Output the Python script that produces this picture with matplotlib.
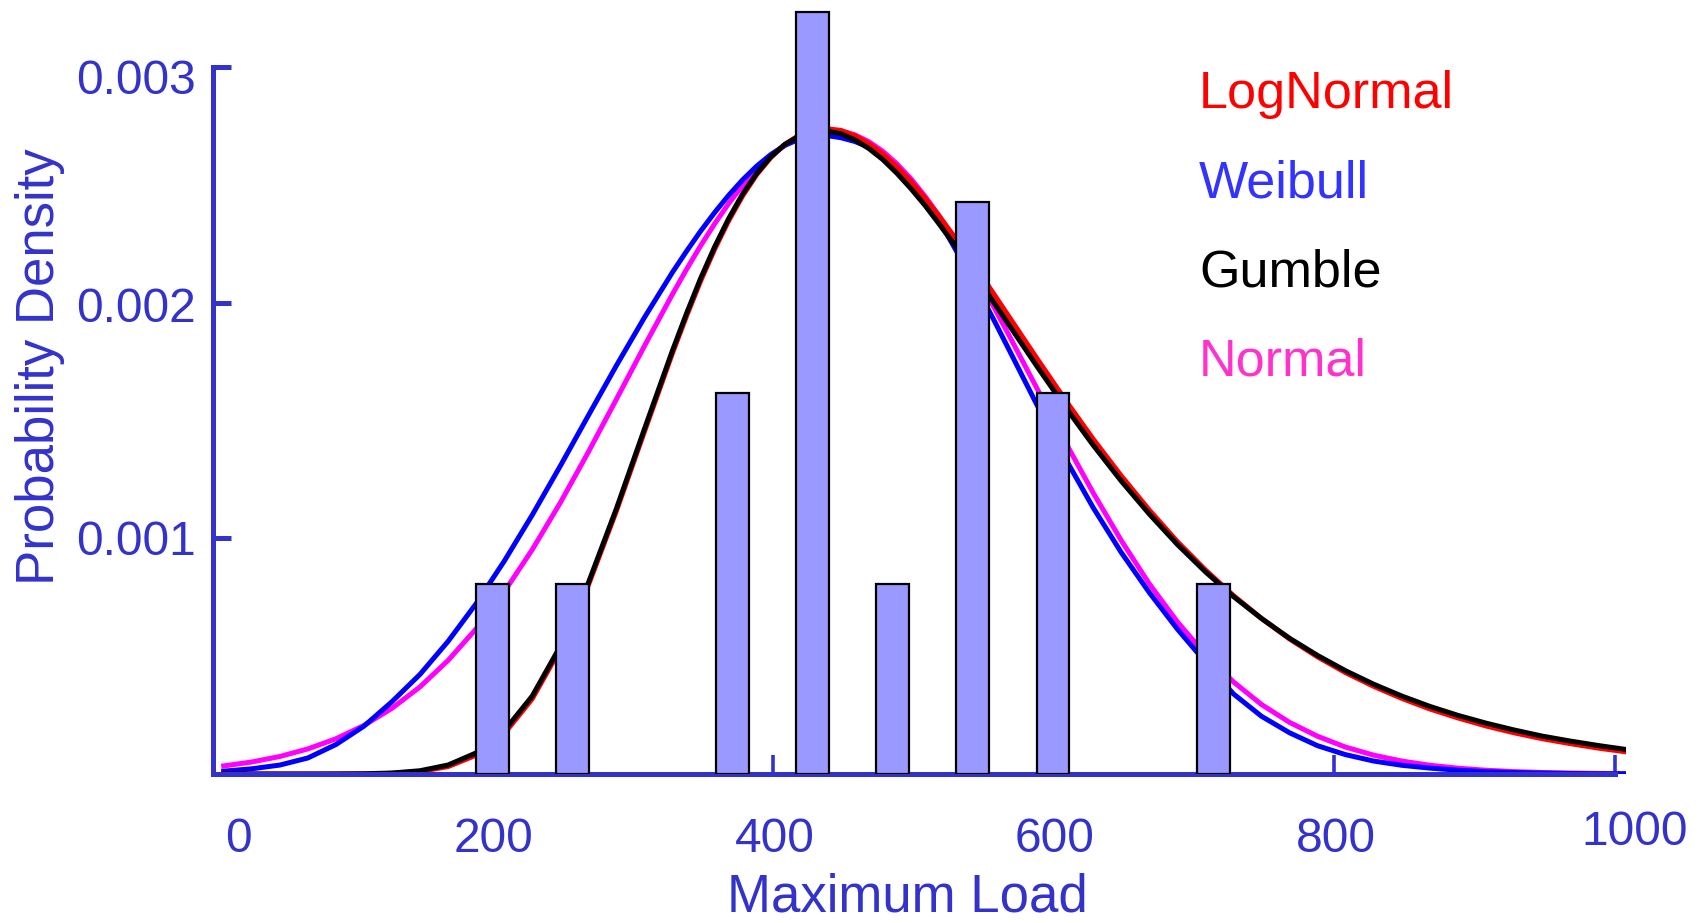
import matplotlib
matplotlib.use('Agg')
import matplotlib.pyplot as plt
from matplotlib.transforms import offset_copy
import numpy as np

plt.rcParams['font.family'] = ['Liberation Sans', 'DejaVu Sans']

AXIS_COLOR = '#3333CC'

# histogram of the measured maximum loads (density scale)
bin_centres = [199.6, 256.7, 370.8, 427.9, 485.1, 542.2, 599.3, 713.5]
bin_density = [0.000808, 0.000808, 0.001617, 0.003234, 0.000808, 0.002425, 0.001617, 0.000808]
bar_width = 23.4

# fitted densities; sampled every 20 units, every 10 around the peak
load = np.concatenate([np.arange(8, 338, 20), np.arange(338, 568, 10), np.arange(568, 1009, 20)])
pdf_lognormal = [0.0, 0.0, 0.0, 0.0, 0.0000001, 0.0000006, 0.0000027, 0.0000103, 0.0000316, 0.0000799,
                 0.000171, 0.000319, 0.000531, 0.000801, 0.001116, 0.001453, 0.001786,
                 0.001943, 0.002091, 0.002226, 0.002347, 0.002453, 0.002543, 0.002615, 0.002671, 0.002709, 0.002732,
                 0.002738, 0.002731, 0.002709, 0.002675, 0.002631, 0.002576, 0.002514, 0.002444, 0.002368, 0.002288,
                 0.002204, 0.002118, 0.002029,
                 0.001940, 0.001762, 0.001588, 0.001421, 0.001265, 0.001120, 0.000986, 0.000866, 0.000757, 0.000660,
                 0.000573, 0.000497, 0.000430, 0.000372, 0.000321, 0.000276, 0.000238, 0.000204, 0.000175, 0.000150,
                 0.000129, 0.000110, 0.000094]
pdf_weibull = [0.000012, 0.000022, 0.000038, 0.000068, 0.000125, 0.000203, 0.000307, 0.000423, 0.000563, 0.000723,
               0.000903, 0.001099, 0.001307, 0.001521, 0.001733, 0.001937, 0.002129,
               0.002218, 0.002303, 0.002382, 0.002455, 0.002521, 0.002579, 0.002628, 0.002667, 0.002693, 0.002707,
               0.002709, 0.002700, 0.002684, 0.002660, 0.002623, 0.002575, 0.002514, 0.002440, 0.002350, 0.002245,
               0.002140, 0.002030, 0.001917,
               0.001800, 0.001565, 0.001340, 0.001130, 0.000940, 0.000770, 0.000615, 0.000475, 0.000340, 0.000245,
               0.000175, 0.000120, 0.000082, 0.000055, 0.000037, 0.000025, 0.000016, 0.000010, 0.000006, 0.000004,
               0.000002, 0.000001, 0.000001]
pdf_gumble = [0.0, 0.0, 0.0, 0.0, 0.0000002, 0.000001, 0.0000042, 0.0000139, 0.0000382, 0.0000895,
              0.000183, 0.000331, 0.000542, 0.000811, 0.001126, 0.001464, 0.001797,
              0.001954, 0.002102, 0.002236, 0.002356, 0.002461, 0.002548, 0.002618, 0.002671, 0.002706, 0.002725,
              0.002728, 0.002717, 0.002691, 0.002654, 0.002607, 0.002549, 0.002484, 0.002413, 0.002335, 0.002254,
              0.002168, 0.002082, 0.001993,
              0.001905, 0.001729, 0.001558, 0.001395, 0.001243, 0.001103, 0.000974, 0.000858, 0.000753, 0.000660,
              0.000576, 0.000503, 0.000438, 0.000381, 0.000331, 0.000287, 0.000249, 0.000216, 0.000187, 0.000161,
              0.000140, 0.000121, 0.000104]
pdf_normal = [0.0000343, 0.000051, 0.0000743, 0.0001064, 0.0001495, 0.0002061, 0.0002788, 0.0003699, 0.0004821, 0.000616,
              0.000773, 0.000952, 0.001151, 0.001366, 0.001590, 0.001816, 0.002036,
              0.002141, 0.002241, 0.002334, 0.002420, 0.002497, 0.002565, 0.002622, 0.002668, 0.002702, 0.002724,
              0.002733, 0.002729, 0.002712, 0.002683, 0.002642, 0.002589, 0.002526, 0.002452, 0.002370, 0.002279,
              0.002182, 0.002079, 0.001972,
              0.001861, 0.001635, 0.001410, 0.001193, 0.000991, 0.000807, 0.000646, 0.000507, 0.000391, 0.000295,
              0.000219, 0.000160, 0.000114, 0.000080, 0.000055, 0.0000372, 0.0000247, 0.000016, 0.0000102, 0.0000064,
              0.000004, 0.0000024, 0.0000014]

x_ticks = [0, 200, 400, 600, 800, 1000]
y_ticks = [0.001, 0.002, 0.003]
y_tick_labels = ['0.001', '0.002', '0.003']

legend_names = ['LogNormal', 'Weibull', 'Gumble', 'Normal']
legend_colors = ['#FF0000', '#3333FF', '#000000', '#FF33CC']

W, H = 1704, 923
fig = plt.figure(figsize=(W / 100, H / 100), dpi=100)
ax = fig.add_axes([212.5 / W, 149 / H, 1413.6 / W, 768.3 / H])
ax.set_xlim(4.4, 1008)
ax.set_ylim(0, 0.00326)

# curves sit under the bars
ax.plot(load, pdf_normal, color='#FF00FF', lw=3.6, zorder=2)
ax.plot(load, pdf_weibull, color='#0000FF', lw=3.6, zorder=2)
ax.plot(load, pdf_lognormal, color='#FF0000', lw=3.6, zorder=2)
ax.plot(load, pdf_gumble, color='#000000', lw=3.6, zorder=2)

ax.bar(bin_centres, bin_density, width=bar_width, color='#9999FF',
       edgecolor='black', linewidth=1.6, zorder=3)

for side in ['top', 'right']:
    ax.spines[side].set_visible(False)
for side in ['left', 'bottom']:
    ax.spines[side].set_color(AXIS_COLOR)
    ax.spines[side].set_linewidth(3.6)
    ax.spines[side].set_zorder(2.5)
ax.spines['left'].set_bounds(0, 0.003)
ax.spines['bottom'].set_bounds(1, 1000)

ax.set_xticks(x_ticks)
ax.set_yticks(y_ticks)
ax.set_xticklabels([])
ax.set_yticklabels([])
ax.tick_params(axis='x', direction='in', length=14, width=2.6, color=AXIS_COLOR)
ax.tick_params(axis='y', direction='in', length=13, width=3.6, color=AXIS_COLOR)

# tick labels placed by hand
x_shift = {0: (26, -78), 1000: (20, -71)}
for v in x_ticks:
    dx, dy = x_shift.get(v, (1, -78))
    tr = offset_copy(ax.transData, fig=fig, x=dx, y=dy, units='dots')
    ax.text(v, 0, str(v), transform=tr, ha='center', va='baseline',
            fontsize=34.5, color=AXIS_COLOR, clip_on=False)

y_shift = [0, -3, -11]
for v, s, dy in zip(y_ticks, y_tick_labels, y_shift):
    tr = offset_copy(ax.get_yaxis_transform(), fig=fig, x=-17, y=dy - 16.5, units='dots')
    ax.text(0, v, s, transform=tr, ha='right', va='baseline',
            fontsize=34.5, color=AXIS_COLOR, clip_on=False)

fig.text(907 / W, 1 - 911 / H, 'Maximum Load', ha='center', va='baseline',
         fontsize=38, color=AXIS_COLOR)
fig.text(40 / W, 1 - 367 / H, 'Probability Density', ha='center', va='center',
         rotation=90, fontsize=38, color=AXIS_COLOR)

for i, (name, col) in enumerate(zip(legend_names, legend_colors)):
    fig.text(1199 / W, 1 - (108 + 89.3 * i) / H, name, ha='left', va='baseline',
             fontsize=37.5, color=col)

fig.savefig('out.png', dpi=100)
